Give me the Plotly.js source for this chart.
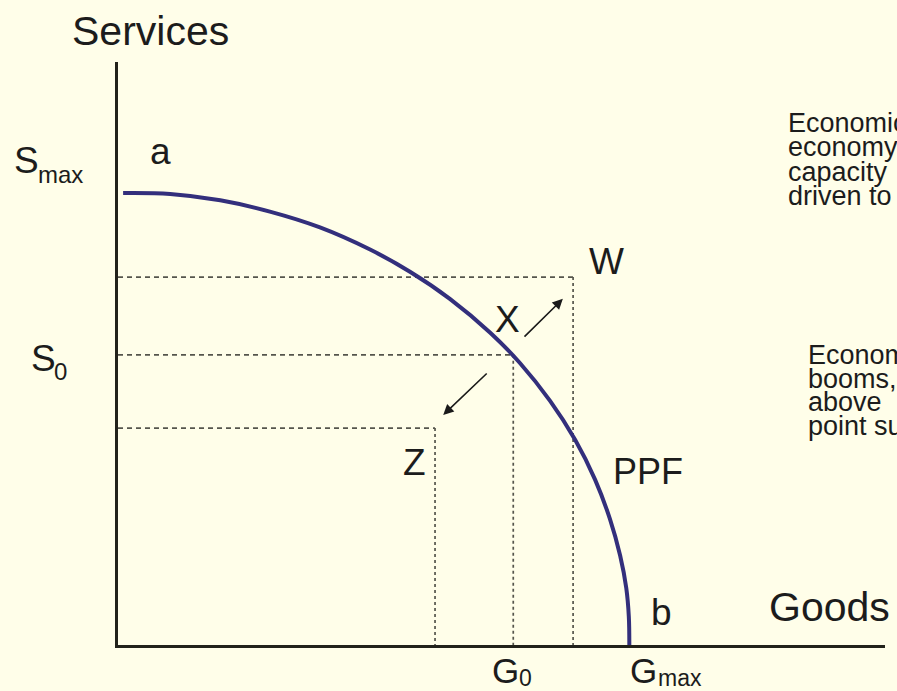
<!DOCTYPE html>
<html>
<head>
<meta charset="utf-8">
<script src="https://cdn.plot.ly/plotly-3.0.1.min.js"></script>
<style>
  html, body { margin: 0; padding: 0; background: #fffee9; }
  #chart { width: 897px; height: 691px; }
</style>
</head>
<body>
<div id="chart"></div>
<script>
// ---- Data (Goods and Services in units where Gmax = Smax = 10) ----
const ppfGoods    = [0.10, 1.02, 2.00, 2.97, 3.95, 4.93, 5.71, 6.49, 7.28, 7.86, 8.45, 8.94, 9.33, 9.62, 9.82, 9.94, 9.99, 10.0];
const ppfServices = [10.0, 9.98, 9.84, 9.59, 9.24, 8.75, 8.26, 7.66, 6.91, 6.24, 5.40, 4.54, 3.66, 2.79, 1.98, 1.26, 0.63, 0.0];

const pointNames    = ["W", "X", "Z"];
const pointGoods    = [8.90, 7.73, 6.20];
const pointServices = [8.14, 6.42, 4.80];

// arrows: X -> W (growth) and X -> Z (recession)
const arrowTailGoods    = [7.92, 7.24];
const arrowTailServices = [6.79, 6.04];
const arrowHeadGoods    = [8.70, 6.36];
const arrowHeadServices = [7.66, 5.09];

const textBlock1 = ["Economic", "economy", "capacity", "driven to"];
const textBlock2 = ["Economic", "booms,", "above", "point su"];

// ---- Layout helpers (pixel -> paper) ----
const W = 897, H = 691;
const M = { l: 118, r: 12, t: 62, b: 46 };
const pw = W - M.l - M.r, ph = H - M.t - M.b;
const px = v => (v - M.l) / pw;
const py = v => (H - M.b - v) / ph;

const FONT = "Liberation Sans, Arial, sans-serif";
const INK = "#1c1c1c";

// ---- Traces ----
const hx = [], hy = [], vx = [], vy = [];
pointGoods.forEach((g, i) => {
  const s = pointServices[i];
  hx.push(0, g, null); hy.push(s, s, null);
  vx.push(g, g, null); vy.push(s, 0, null);
});

const traces = [
  { x: hx, y: hy, mode: "lines", line: { color: "#55554c", width: 1.7, dash: "5px,4px" }, hoverinfo: "skip" },
  { x: vx, y: vy, mode: "lines", line: { color: "#55554c", width: 1.7, dash: "3px,3px" }, hoverinfo: "skip" },
  { x: ppfGoods, y: ppfServices, mode: "lines", line: { color: "#332f7c", width: 4, shape: "spline", smoothing: 1 }, hoverinfo: "skip" }
];

// ---- Annotations ----
const ann = [];
function label(text, x, y, size, xanchor) {
  ann.push({ xref: "paper", yref: "paper", x: px(x), y: py(y), text: text, showarrow: false,
             xanchor: xanchor || "center", yanchor: "middle",
             font: { family: FONT, size: size, color: INK } });
}
label("Services", 150, 31, 41);
label("Goods", 829, 607, 41);
label("a", 160, 151, 37);
label("S", 12, 161, 37, "left");
label("max", 36, 174, 24, "left");
label("S", 29, 358, 37, "left");
label("0", 52, 371, 24, "left");
label(pointNames[0], 606, 261, 37);
label(pointNames[1], 507, 319, 37);
label(pointNames[2], 414, 462, 37);
label("PPF", 611, 471, 36, "left");
label("b", 661, 612, 37);
label("G", 490, 670, 35, "left");
label("0", 517, 678, 23, "left");
label("G", 628, 670, 35, "left");
label("max", 656, 678, 23, "left");

textBlock1.forEach((t, i) => label(t, 786, 123 + i * 24.3, 27, "left"));
textBlock2.forEach((t, i) => label(t, 806, 355 + i * 23.6, 27, "left"));

for (let i = 0; i < arrowHeadGoods.length; i++) {
  ann.push({ xref: "x", yref: "y", axref: "x", ayref: "y",
             x: arrowHeadGoods[i], y: arrowHeadServices[i],
             ax: arrowTailGoods[i], ay: arrowTailServices[i],
             text: "", showarrow: true, arrowhead: 2, arrowsize: 1.3, arrowwidth: 1.6, arrowcolor: "#1a1a1a" });
}

const layout = {
  width: W, height: H,
  margin: M,
  paper_bgcolor: "#fffee9",
  plot_bgcolor: "#fffee9",
  showlegend: false,
  xaxis: { range: [0, 15], showgrid: false, zeroline: false, showticklabels: false, ticks: "",
           showline: true, linecolor: "#22221a", linewidth: 3, fixedrange: true },
  yaxis: { range: [0, 12.9], showgrid: false, zeroline: false, showticklabels: false, ticks: "",
           showline: true, linecolor: "#22221a", linewidth: 3, fixedrange: true },
  annotations: ann
};

Plotly.newPlot("chart", traces, layout, { staticPlot: true, displayModeBar: false });
</script>
</body>
</html>
